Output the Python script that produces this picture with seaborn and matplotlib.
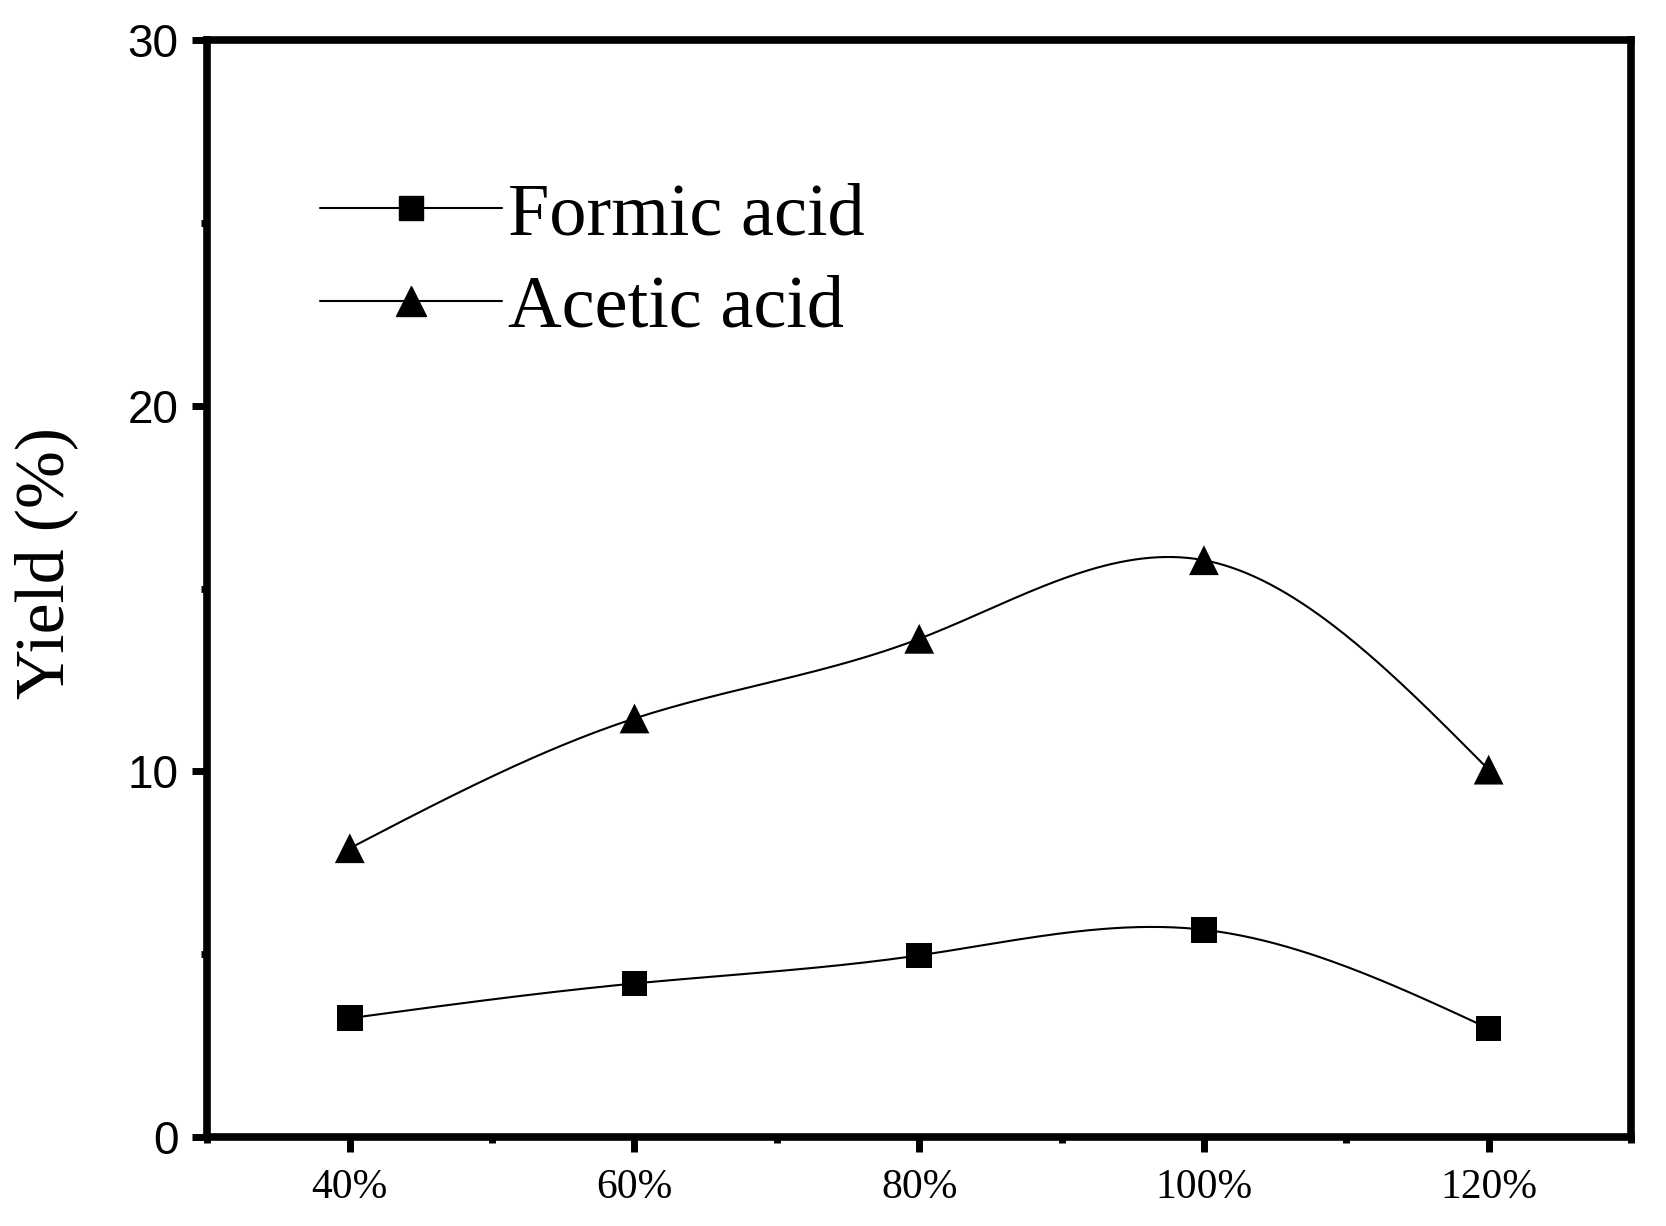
import numpy as np
import pandas as pd
import matplotlib
matplotlib.use("Agg")
import matplotlib.pyplot as plt
from matplotlib.lines import Line2D
from matplotlib.ticker import MultipleLocator
import seaborn as sns

# data
dosage = [40, 60, 80, 100, 120]
tick_labels = ["40%", "60%", "80%", "100%", "120%"]
formic_acid = [3.25, 4.2, 4.97, 5.67, 2.97]
acetic_acid = [7.9, 11.45, 13.63, 15.78, 10.05]


def natural_spline(x, y, n=300):
    """Natural cubic spline through the points, for drawing a smooth connector."""
    x = np.asarray(x, float)
    y = np.asarray(y, float)
    k = len(x)
    h = np.diff(x)
    A = np.zeros((k, k))
    b = np.zeros(k)
    A[0, 0] = A[-1, -1] = 1
    for i in range(1, k - 1):
        A[i, i - 1] = h[i - 1]
        A[i, i] = 2 * (h[i - 1] + h[i])
        A[i, i + 1] = h[i]
        b[i] = 6 * ((y[i + 1] - y[i]) / h[i] - (y[i] - y[i - 1]) / h[i - 1])
    M = np.linalg.solve(A, b)
    xs = np.linspace(x[0], x[-1], n)
    idx = np.clip(np.searchsorted(x, xs) - 1, 0, k - 2)
    x0, x1 = x[idx], x[idx + 1]
    hh = x1 - x0
    t1 = x1 - xs
    t0 = xs - x0
    ys = (M[idx] * t1 ** 3 + M[idx + 1] * t0 ** 3) / (6 * hh) \
        + (y[idx] / hh - M[idx] * hh / 6) * t1 \
        + (y[idx + 1] / hh - M[idx + 1] * hh / 6) * t0
    return xs, ys


sns.set_style("white")
plt.rcParams.update({"text.color": "black", "axes.labelcolor": "black",
                     "xtick.color": "black", "ytick.color": "black"})

fig = plt.figure(figsize=(16.66, 12.26), dpi=100)
ax = fig.add_axes([0.1245, 0.0726, 0.8545, 0.8944])

points = pd.DataFrame({"dosage": dosage, "Formic acid": formic_acid, "Acetic acid": acetic_acid})
for name, marker in [("Formic acid", "s"), ("Acetic acid", "^")]:
    xs, ys = natural_spline(points["dosage"], points[name])
    sns.lineplot(x=xs, y=ys, ax=ax, color="black", linewidth=1.5, sort=False)
    sns.scatterplot(data=points, x="dosage", y=name, ax=ax, marker=marker,
                    color="black", s=340 if marker == "s" else 460, edgecolor="none", zorder=3)

ax.set_xlim(30, 130)
ax.set_ylim(0, 30)
ax.set_xticks(dosage)
ax.set_xticklabels(tick_labels, fontfamily="Liberation Serif", fontsize=30)
ax.xaxis.set_minor_locator(MultipleLocator(10))
ax.set_yticks([0, 10, 20, 30])
ax.set_yticklabels(["0", "10", "20", "30"], fontfamily="Liberation Sans", fontsize=33)
ax.yaxis.set_minor_locator(MultipleLocator(5))
ax.tick_params(which="major", direction="out", length=11, width=5, bottom=True, left=True)
ax.tick_params(which="minor", direction="out", length=4.5, width=5, bottom=True, left=True)
ax.tick_params(axis="x", which="major", pad=12)
ax.tick_params(axis="y", which="major", pad=10)
ax.set_xlabel("")
ax.set_ylabel("Yield (%)", fontfamily="Liberation Serif", fontsize=50)
ax.yaxis.set_label_coords(-0.091, 0.523)
for sp in ax.spines.values():
    sp.set_linewidth(5.5)
    sp.set_color("black")
    sp.set_visible(True)

handles = [Line2D([], [], color="black", linewidth=1.5, marker="s", markersize=17),
           Line2D([], [], color="black", linewidth=1.5, marker="^", markersize=21)]
ax.legend(handles, ["Formic acid", "Acetic acid"], loc="upper left",
          bbox_to_anchor=(0.058, 0.898), frameon=False,
          prop={"family": "Liberation Serif", "size": 53.5},
          handlelength=2.45, handletextpad=0.08, labelspacing=0.33, borderaxespad=0)

fig.savefig("out.png", dpi=100)
plt.close(fig)
